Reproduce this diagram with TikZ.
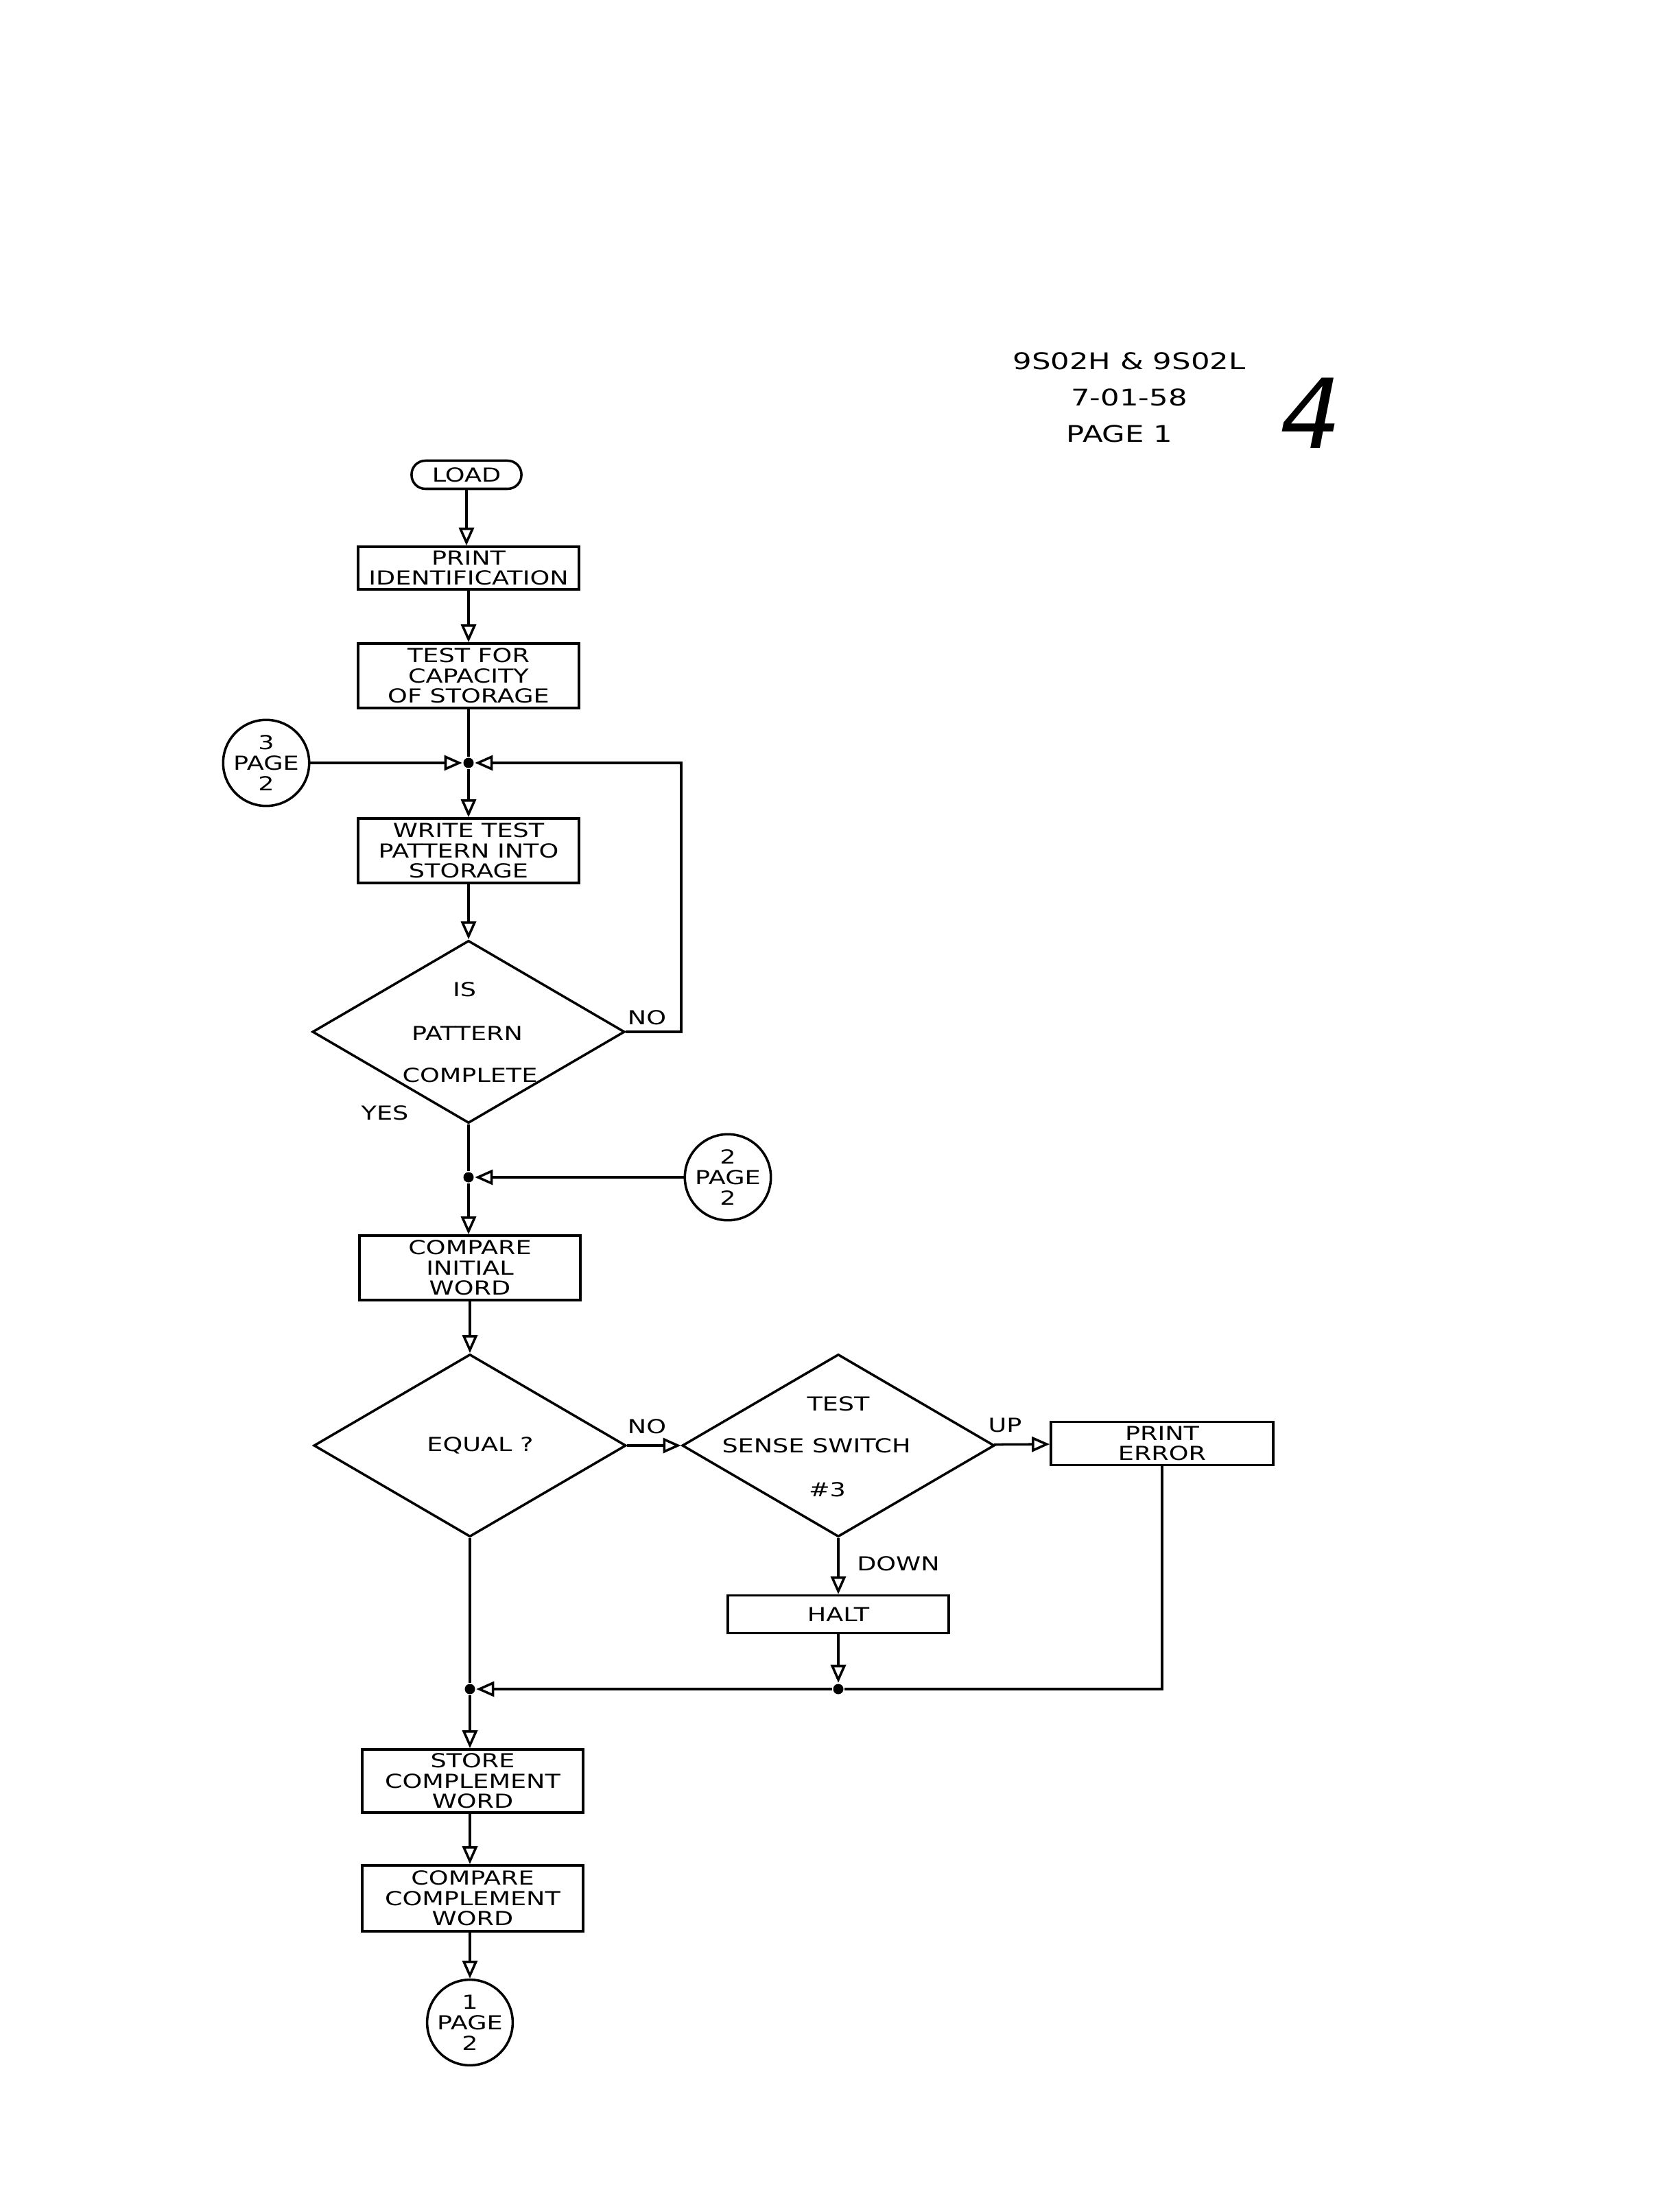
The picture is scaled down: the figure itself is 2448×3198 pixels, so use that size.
\documentclass[tikz,border=0pt]{standalone}
\usepackage{fontspec}
\newfontfamily\leroy[FakeStretch=1.3]{DejaVu Sans}
\newfontfamily\handfont{DejaVu Sans}
\usetikzlibrary{arrows.meta,shapes.geometric}

\begin{document}
\begin{tikzpicture}[x=0.01cm,y=-0.01cm,line width=1pt,
    every node/.style={font=\leroy\fontsize{8}{8.4}\selectfont},
    box/.style={draw,rectangle,minimum width=3.22cm,inner sep=0pt,align=center},
    decision/.style={draw,diamond,minimum width=4.55cm,minimum height=2.66cm,inner sep=0pt},
    term/.style={draw,rectangle,rounded corners=0.2cm,minimum width=1.6cm,minimum height=0.41cm,inner sep=0pt},
    conn/.style={draw,circle,minimum size=1.02cm,inner sep=0pt,align=center,font=\leroy\fontsize{8}{8.6}\selectfont},
    dot/.style={circle,fill,minimum size=0.15cm,inner sep=0pt},
    flow/.style={-{Triangle[open,length=0.26cm,width=0.22cm]}},
    lbl/.style={inner sep=1pt}]
  \useasboundingbox (0,0) rectangle (2448,3198);

  \node (hdr1) at (1646,526) {\fontsize{9.5}{10}\selectfont 9S02H \& 9S02L};
  \node (hdr2) at (1646,579) {\fontsize{9.5}{10}\selectfont 7-01-58};
  \node (hdr3) at (1632,632) {\fontsize{9.5}{10}\selectfont PAGE 1};
  \node (pgno) at (1911,602) {\handfont\itshape\fontsize{40}{40}\selectfont 4};

  \node[term] (load) at (680,692) {LOAD};
  \node[box,minimum height=0.62cm] (ident) at (683,828) {PRINT\\IDENTIFICATION};
  \node[box,minimum height=0.94cm] (capac) at (683,985) {TEST FOR\\CAPACITY\\OF STORAGE};
  \node[dot] (j1) at (683,1112) {};
  \node[conn] (c3) at (388,1112) {3\\PAGE\\2};
  \node[box,minimum height=0.94cm] (write) at (683,1240) {WRITE TEST\\PATTERN INTO\\STORAGE};
  \node[decision] (patt) at (683,1504) {};
  \node (patt-a) at (677,1442) {IS};
  \node (patt-b) at (681,1506) {PATTERN};
  \node (patt-c) at (685,1567) {COMPLETE};
  \node[lbl] (patt-no) at (943,1483) {NO};
  \node[lbl] (patt-yes) at (561,1622) {YES};
  \coordinate (loop) at (993,1504);

  \node[dot] (j2) at (683,1716) {};
  \node[conn] (c2) at (1061,1716) {2\\PAGE\\2};
  \node[box,minimum height=0.94cm] (cmpinit) at (685,1848) {COMPARE\\INITIAL\\WORD};
  \node[decision] (equal) at (685,2107) {};
  \node (equal-t) at (700,2107) {EQUAL ?};
  \node[lbl] (equal-no) at (943,2079) {NO};
  \node[decision] (sense) at (1222,2107) {};
  \node (sense-a) at (1222,2046) {TEST};
  \node (sense-b) at (1190,2107) {SENSE SWITCH};
  \node (sense-c) at (1206,2171) {\#3};
  \node[lbl] (sense-up) at (1465,2077) {UP};
  \node[lbl,anchor=west] (sense-dn) at (1244,2279) {DOWN};
  \node[box,minimum width=3.24cm,minimum height=0.63cm] (prerr) at (1694,2104) {PRINT\\ERROR};
  \node[box,minimum height=0.55cm] (halt) at (1222,2353) {HALT};
  \node[dot] (d3) at (1222,2462) {};
  \node[dot] (j4) at (685,2462) {};
  \node[box,minimum height=0.92cm] (store) at (689,2596) {STORE\\COMPLEMENT\\WORD};
  \node[box,minimum height=0.96cm] (cmpcomp) at (689,2767) {COMPARE\\COMPLEMENT\\WORD};
  \node[conn,minimum size=1.08cm] (c1) at (685,2948) {1\\PAGE\\2};

  \draw[flow] (load) -- (ident.north -| load);
  \draw[flow] (ident) -- (capac);
  \draw (capac) -- (j1);
  \draw[flow] (c3) -- (j1);
  \draw[flow] (patt.east) -- (loop) |- (j1);
  \draw[flow] (j1) -- (write);
  \draw[flow] (write) -- (patt);
  \draw (patt) -- (j2);
  \draw[flow] (c2) -- (j2);
  \draw[flow] (j2) -- (cmpinit.north -| j2);
  \draw[flow] (cmpinit) -- (equal);
  \draw[flow] (equal) -- (sense);
  \draw[flow] (sense) -- (prerr);
  \draw[flow] (sense) -- (halt);
  \draw[flow] (halt) -- (d3);
  \draw (prerr.south) |- (d3);
  \draw[flow] (d3) -- (j4);
  \draw (equal) -- (j4);
  \draw[flow] (j4) -- (store.north -| j4);
  \draw[flow] (store.south -| j4) -- (cmpcomp.north -| j4);
  \draw[flow] (cmpcomp.south -| j4) -- (c1);
\end{tikzpicture}
\end{document}
